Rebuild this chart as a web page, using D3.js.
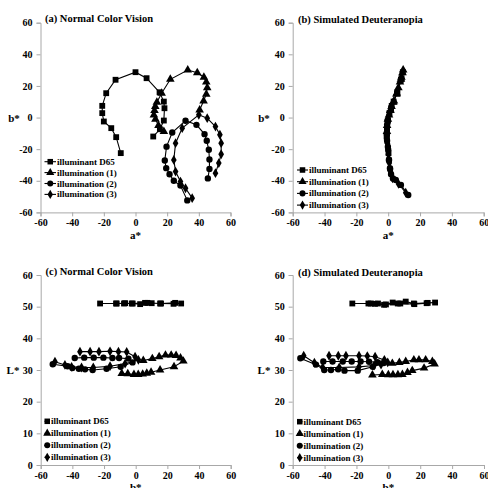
<!DOCTYPE html>
<html><head><meta charset="utf-8">
<script src="https://cdn.jsdelivr.net/npm/d3@7"></script>
<style>
html,body{margin:0;padding:0;background:#fff;}
svg text{font-family:"Liberation Serif","Times New Roman",serif;font-weight:bold;fill:#000;}
</style></head>
<body><svg id="chart" width="488" height="488"></svg>
<script>
// ---------- data ----------
const seriesNames = ["illuminant D65","illumination (1)","illumination (2)","illumination (3)"];
const abTicks = [-60,-40,-20,0,20,40,60];
const LTicks = [0,10,20,30,40,50,60];

// Normal colour vision: a*, b*, L*
const d65_a = [-9.3,-12.2,-15.3,-20,-21,-21,-18.5,-12.6,0,7,15.2,17.9,18.3,17.9,15.4,11.2];
const d65_b = [-22.5,-12.4,-6.7,-2.5,2.8,7.4,15.4,23.9,28.7,24.9,16,10.1,5.9,-1.9,-7.4,-12];
const d65_L = [51,51,51.1,51,50.8,51.2,51,50.9,51,51.2,51,51.1,51.2,51,51,51];

const ill1_a = [17.9,14.5,12.6,11.6,12.0,12.5,13.5,16.5,22.0,33.0,39.0,43.2,44.7,45.3,44.7,43.0,40.5];
const ill1_b = [-8.8,-5.0,-1.1,1.6,4.4,7.0,9.7,15.4,24.2,30.1,28.3,25.5,22.4,18.8,14.8,10.5,4.8];
const ill1_L = [28.9,28.8,28.6,28.6,28.7,29.0,29.3,30.0,31.0,32.8,33.8,34.6,34.7,34.7,34.2,33.6,33.0];

const ill2_a = [45.7,46.7,46.7,46.3,45.0,43.6,38.5,31.6,23.2,19.6,18.5,19.4,21.5,24.2,28.4,32.7];
const ill2_b = [-38.5,-32.5,-26.5,-20.4,-14.7,-10.5,-4.6,-2.0,-9.5,-18.4,-27.2,-32.0,-35.9,-40.0,-43.0,-52.4];
const ill2_L = [33.8,33.9,33.9,33.9,33.8,33.8,33.6,32.4,31.0,30.4,30.0,30.2,30.4,30.6,31.2,31.8];

const ill3_a = [50.5,52.6,54.1,54.1,53.3,50.5,45.3,40.0,29.5,25.3,24.2,25.3,28.4,31.6,35.8];
const ill3_b = [-35.2,-28.8,-23.2,-16.2,-10.9,-5.7,-0.4,1.7,-6.7,-16.2,-26.8,-34.2,-40.5,-44.7,-51.0];
const ill3_L = [35.8,35.8,35.8,35.9,35.8,35.7,34.2,33.2,32.0,31.2,30.8,30.8,31.0,31.6,32.6];

// Simulated deuteranopia: a*, b* (panel b)
const d65_aD = [0.2,-0.8,-0.7,-0.4,0.8,2.2,5.5,8.0,9.2,8.4,5.8,3.4,1.8,-0.2,-0.8,-1.0];
const d65_bD = [-22.5,-12.4,-6.7,-2.5,2.8,7.4,15.4,23.9,28.7,24.9,16,10.1,5.9,-1.9,-7.4,-12];
const ill1_aD = [-0.8,-0.7,-0.2,0.5,1.3,2.1,3.2,5.4,8.0,9.4,9.0,8.3,7.4,6.4,5.2,3.6,1.4];
const ill1_bD = [-8.8,-5.0,-1.1,1.6,4.4,7.0,9.7,15.4,24.2,30.1,28.3,25.5,22.4,18.8,14.8,10.5,4.8];
const ill2_aD = [3.0,1.2,0.5,0,-0.7,-0.8,-0.7,-0.3,-0.8,-0.2,0.5,1.1,1.8,4.8,8.0,12.6];
const ill2_bD = [-38.5,-32.5,-26.5,-20.4,-14.7,-10.5,-4.6,-2.0,-9.5,-18.4,-27.2,-32.0,-35.9,-39.5,-42.6,-49.0];
const ill3_aD = [1.6,0.7,0.1,-0.5,-0.8,-0.7,-0.1,0.6,-0.7,-0.5,0.5,1.4,2.8,6.5,11.0];
const ill3_bD = [-35.2,-28.8,-23.2,-16.2,-10.9,-5.7,-0.4,1.7,-6.7,-16.2,-26.8,-34.2,-38.5,-42.0,-47.5];

// Simulated deuteranopia: b*, L* (panel d)
const d65_bL = [-22.6,-12.5,-8.4,-2.7,2.7,7.5,16.3,24.0,29.3,24.7,16.0,10.9,5.9,-1.5,-6.5,-11.0];
const d65_LD = [51,51,50.9,50.6,51.3,51,50.8,51.1,51.3,51.2,51,51.6,51,50.7,51,51];
const ill1_bL = [-10,-3.8,0,2.9,6.0,8.8,12,15,22.4,29,27.6,23.4,19.2,16,10.9,6.9,2.5];
const ill1_LD = [28.4,28.6,28.5,28.5,28.5,28.6,29.2,29.8,30.6,31.9,32.7,33.2,33.2,33.2,32.7,32.4,32.1];
const ill2_bL = [-40.8,-35,-28.6,-23,-17.4,-12.1,-6.9,-2.9,-9.8,-19.2,-27.5,-31.5,-36,-40.2,-45.4,-55.2];
const ill2_LD = [32.7,32.7,32.7,32.7,32.7,32.6,32.5,32.2,31.0,29.8,29.8,30.2,30.0,30.0,31.7,33.7];
const ill3_bL = [-37.2,-31.4,-26.6,-18.4,-13.2,-8.3,-2.5,-0.4,-4.6,-9,-18.4,-30.8,-41.2,-46.4,-53.1];
const ill3_LD = [34.5,34.5,34.5,34.5,34.4,34.2,33.2,32.4,31.7,31.4,31.0,30.8,30.8,32.3,34.5];

// ---------- drawing ----------
const svg = d3.select("#chart");
const symbols = [d3.symbolSquare, d3.symbolTriangle, d3.symbolCircle, d3.symbolDiamond];
const symSizes = [34, 32, 32, 28];
const axisColor = "#a8a8a8";

function zip(xs, ys){ return xs.map((x,i)=>[x, ys[i]]); }

const panels = [
  {title:"(a) Normal Color Vision", left:40.5, top:22.7, w:190, h:189.7, ydom:[-60,60], yt:abTicks, xl:"a*", yl:"b*",
   data:[zip(d65_a,d65_b),zip(ill1_a,ill1_b),zip(ill2_a,ill2_b),zip(ill3_a,ill3_b)],
   titleX:45, titleY:22, ylX:14, xlY:239, leg:{x:44.5, y:161.7, dy:10.9, tx:57}},
  {title:"(b) Simulated Deuteranopia", left:292.7, top:22.7, w:191, h:189.7, ydom:[-60,60], yt:abTicks, xl:"a*", yl:"b*",
   data:[zip(d65_aD,d65_bD),zip(ill1_aD,ill1_bD),zip(ill2_aD,ill2_bD),zip(ill3_aD,ill3_bD)],
   titleX:298, titleY:23, ylX:264, xlY:239, leg:{x:297, y:170, dy:11.7, tx:309}},
  {title:"(c) Normal Color Vision", left:40.7, top:275, w:190, h:190, ydom:[0,60], yt:LTicks, xl:"b*", yl:"L*",
   data:[zip(d65_b,d65_L),zip(ill1_b,ill1_L),zip(ill2_b,ill2_L),zip(ill3_b,ill3_L)],
   titleX:45.5, titleY:274.5, ylX:13, xlY:491, leg:{x:44.5, y:421.3, dy:12, tx:51}},
  {title:"(d) Simulated Deuteranopia", left:292.7, top:275, w:191.3, h:190, ydom:[0,60], yt:LTicks, xl:"b*", yl:"L*",
   data:[zip(d65_bL,d65_LD),zip(ill1_bL,ill1_LD),zip(ill2_bL,ill2_LD),zip(ill3_bL,ill3_LD)],
   titleX:298, titleY:275.5, ylX:264, xlY:491, leg:{x:297, y:421.7, dy:12, tx:303.5}}
];

panels.forEach(p => {
  const x = d3.scaleLinear().domain([-60,60]).range([p.left, p.left + p.w]);
  const y = d3.scaleLinear().domain(p.ydom).range([p.top + p.h, p.top]);
  const g = svg.append("g");

  const xAxis = g.append("g").attr("transform", `translate(0,${p.top + p.h})`)
    .call(d3.axisBottom(x).tickValues(abTicks).tickSize(4).tickPadding(3));
  const yAxis = g.append("g").attr("transform", `translate(${p.left},0)`)
    .call(d3.axisLeft(y).tickValues(p.yt).tickSize(4).tickPadding(4));
  [xAxis, yAxis].forEach(a => {
    a.select(".domain").attr("stroke", axisColor).attr("stroke-width", 1);
    a.selectAll(".tick line").attr("stroke", axisColor);
    a.selectAll(".tick text").style("font-size", "10px").attr("fill", "#000")
      .style("font-family", "'Liberation Serif',serif").style("font-weight", "bold")
      .text(d => String(d));
  });

  g.append("text").attr("x", p.titleX).attr("y", p.titleY).style("font-size", "10.5px").text(p.title);
  g.append("text").attr("x", p.left + p.w/2).attr("y", p.xlY).attr("text-anchor","middle").style("font-size","11px").text(p.xl);
  g.append("text").attr("x", p.ylX).attr("y", p.top + p.h/2 + 4).attr("text-anchor","middle").style("font-size","11px").text(p.yl);

  const line = d3.line().x(d => x(d[0])).y(d => y(d[1]));
  p.data.forEach((pts, si) => {
    g.append("path").attr("d", line(pts)).attr("fill","none").attr("stroke","#000").attr("stroke-width",1.1);
    g.selectAll(null).data(pts).enter().append("path")
      .attr("d", d3.symbol().type(symbols[si]).size(symSizes[si]))
      .attr("transform", d => `translate(${x(d[0])},${y(d[1])})`)
      .attr("fill", "#000");
  });

  // legend
  seriesNames.forEach((name, si) => {
    const ly = p.leg.y + si * p.leg.dy;
    const lg = g.append("g");
    lg.append("line").attr("x1", p.leg.x).attr("x2", p.leg.tx - 1).attr("y1", ly).attr("y2", ly)
      .attr("stroke","#000").attr("stroke-width",1.1);
    lg.append("path").attr("d", d3.symbol().type(symbols[si]).size(symSizes[si]*0.9))
      .attr("transform", `translate(${(p.leg.x + p.leg.tx - 1)/2},${ly})`).attr("fill","#000");
    lg.append("text").attr("x", p.leg.tx).attr("y", ly + 3).style("font-size","9px").text(name);
  });
});
</script></body></html>
